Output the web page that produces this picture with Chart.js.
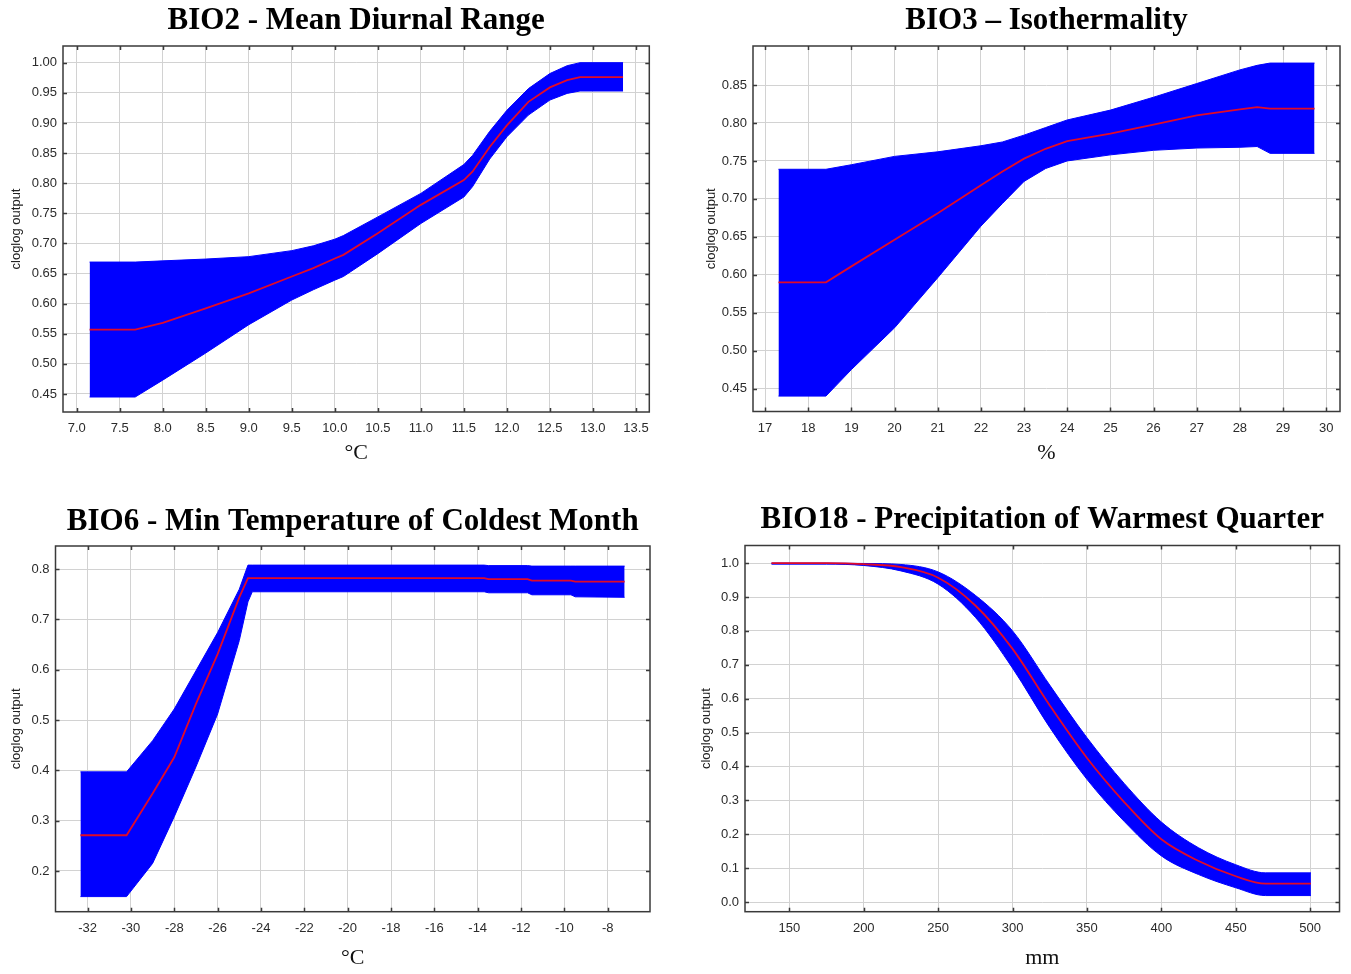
<!DOCTYPE html>
<html>
<head>
<meta charset="utf-8">
<title>Response curves</title>
<script src="https://cdn.jsdelivr.net/npm/chart.js@4.4.1/dist/chart.umd.min.js"></script>
<style>
    html, body { margin: 0; padding: 0; background: #fff; }
    body { width: 1351px; height: 974px; position: relative; overflow: hidden; }
    .panel { position: absolute; }
</style>
</head>
<body>
<div class="panel" style="left:0px;top:0px;width:690px;height:487px"><canvas id="bio2Chart" width="690" height="487"></canvas></div>
<div class="panel" style="left:690px;top:0px;width:661px;height:487px"><canvas id="bio3Chart" width="661" height="487"></canvas></div>
<div class="panel" style="left:0px;top:487px;width:690px;height:487px"><canvas id="bio6Chart" width="690" height="487"></canvas></div>
<div class="panel" style="left:690px;top:487px;width:661px;height:487px"><canvas id="bio18Chart" width="661" height="487"></canvas></div>
<script>
// BIO2 - mean diurnal range
var bio2X     = [7.15, 7.68, 8.0, 8.5, 9.0, 9.5, 9.75, 10.0, 10.1, 10.5, 11.0, 11.5, 11.6, 11.8, 12.0, 12.25, 12.5, 12.7, 12.85, 13.35];
var bio2Upper = [0.669, 0.669, 0.671, 0.674, 0.678, 0.688, 0.696, 0.707, 0.713, 0.744, 0.783, 0.831, 0.846, 0.886, 0.921, 0.957, 0.982, 0.995, 1.0, 1.0];
var bio2Lower = [0.445, 0.445, 0.473, 0.518, 0.565, 0.606, 0.623, 0.639, 0.645, 0.683, 0.733, 0.777, 0.794, 0.840, 0.877, 0.913, 0.938, 0.949, 0.953, 0.953];
var bio2Mean  = [0.557, 0.557, 0.568, 0.592, 0.617, 0.645, 0.659, 0.675, 0.681, 0.717, 0.764, 0.805, 0.819, 0.860, 0.896, 0.935, 0.959, 0.971, 0.976, 0.976];
var bio2XTicks = [7.0, 7.5, 8.0, 8.5, 9.0, 9.5, 10.0, 10.5, 11.0, 11.5, 12.0, 12.5, 13.0, 13.5];
var bio2YTicks = [0.45, 0.50, 0.55, 0.60, 0.65, 0.70, 0.75, 0.80, 0.85, 0.90, 0.95, 1.00];

// BIO3 - isothermality
var bio3X     = [17.31, 18.41, 19, 20, 21, 22, 22.5, 23, 23.5, 24, 25, 26, 27, 28, 28.4, 28.7, 29.73];
var bio3Upper = [0.739, 0.739, 0.745, 0.756, 0.762, 0.770, 0.775, 0.784, 0.794, 0.804, 0.817, 0.834, 0.852, 0.870, 0.876, 0.879, 0.879];
var bio3Lower = [0.440, 0.440, 0.475, 0.530, 0.596, 0.664, 0.694, 0.723, 0.740, 0.750, 0.758, 0.764, 0.767, 0.768, 0.769, 0.760, 0.760];
var bio3Mean  = [0.590, 0.590, 0.611, 0.646, 0.681, 0.718, 0.736, 0.753, 0.766, 0.776, 0.786, 0.798, 0.810, 0.818, 0.821, 0.819, 0.819];
var bio3XTicks = [17, 18, 19, 20, 21, 22, 23, 24, 25, 26, 27, 28, 29, 30];
var bio3YTicks = [0.45, 0.50, 0.55, 0.60, 0.65, 0.70, 0.75, 0.80, 0.85];

// BIO6 - min temperature of coldest month
var bio6X     = [-32.33, -30.2, -29, -28, -27, -26, -25, -24.6, -24.4, -13.7, -13.5, -11.7, -11.5, -9.7, -9.5, -7.22];
var bio6Upper = [0.397, 0.397, 0.459, 0.522, 0.598, 0.674, 0.760, 0.808, 0.808, 0.808, 0.807, 0.807, 0.806, 0.806, 0.806, 0.806];
var bio6Lower = [0.149, 0.149, 0.215, 0.308, 0.407, 0.512, 0.658, 0.735, 0.755, 0.755, 0.753, 0.753, 0.749, 0.749, 0.745, 0.744];
var bio6Mean  = [0.271, 0.271, 0.354, 0.426, 0.532, 0.631, 0.744, 0.782, 0.782, 0.782, 0.780, 0.780, 0.777, 0.777, 0.775, 0.775];
var bio6XTicks = [-32, -30, -28, -26, -24, -22, -20, -18, -16, -14, -12, -10, -8];
var bio6YTicks = [0.2, 0.3, 0.4, 0.5, 0.6, 0.7, 0.8];

// BIO18 - precipitation of warmest quarter
var bio18X     = [138, 175, 200, 225, 250, 275, 300, 325, 350, 375, 400, 425, 450, 470, 500.5];
var bio18Upper = [1.0, 1.0, 0.999, 0.996, 0.974, 0.905, 0.800, 0.640, 0.485, 0.350, 0.236, 0.160, 0.110, 0.086, 0.086];
var bio18Lower = [0.997, 0.997, 0.993, 0.977, 0.938, 0.840, 0.690, 0.515, 0.362, 0.238, 0.136, 0.081, 0.042, 0.019, 0.019];
var bio18Mean  = [1.0, 1.0, 0.997, 0.988, 0.957, 0.875, 0.747, 0.580, 0.425, 0.295, 0.185, 0.121, 0.076, 0.054, 0.054];
var bio18XTicks = [150, 200, 250, 300, 350, 400, 450, 500];
var bio18YTicks = [0.0, 0.1, 0.2, 0.3, 0.4, 0.5, 0.6, 0.7, 0.8, 0.9, 1.0];

var sansFont = "'Liberation Sans', Arial, sans-serif";
var serifFont = "'Liberation Serif', 'Times New Roman', serif";

function toPoints(xs, ys) {
    return xs.map(function (x, i) { return { x: x, y: ys[i] }; });
}

// inner frame + little inward tick marks like the maxent plots
var framePlugin = {
    id: 'frame',
    afterDatasetsDraw: function (chart) {
        var ctx = chart.ctx, a = chart.chartArea;
        var sx = chart.scales.x, sy = chart.scales.y;
        ctx.save();
        ctx.strokeStyle = '#3a3a3a';
        ctx.lineWidth = 1.5;
        ctx.beginPath();
        sx.ticks.forEach(function (t) {
            var px = Math.round(sx.getPixelForValue(t.value)) + 0.5;
            ctx.moveTo(px, a.bottom); ctx.lineTo(px, a.bottom - 4);
            ctx.moveTo(px, a.top); ctx.lineTo(px, a.top + 4);
        });
        sy.ticks.forEach(function (t) {
            var py = Math.round(sy.getPixelForValue(t.value)) + 0.5;
            ctx.moveTo(a.left, py); ctx.lineTo(a.left + 4, py);
            ctx.moveTo(a.right, py); ctx.lineTo(a.right - 4, py);
        });
        ctx.stroke();
        ctx.strokeRect(a.left, a.top, a.right - a.left, a.bottom - a.top);
        ctx.restore();
    }
};

function makeChart(id, cfg) {
    var ctx = document.getElementById(id).getContext('2d');
    var g = cfg.geom;
    var titleSize = 31, titleLH = titleSize * 1.2;
    var layoutTop = Math.max(0, g.titleY - g.top - titleLH / 2);
    var xTitleLH = 22 * 1.2;
    var yTitleLH = 13 * 1.2;
    var interp = cfg.smooth ? 'monotone' : 'default';

    return new Chart(ctx, {
        type: 'line',
        data: {
            datasets: [{
                label: 'mean',
                data: toPoints(cfg.x, cfg.mean),
                borderColor: 'rgb(225, 10, 40)',
                borderWidth: 1.8,
                pointRadius: 0,
                fill: false,
                tension: 0,
                cubicInterpolationMode: interp
            }, {
                label: 'upper',
                data: toPoints(cfg.x, cfg.upper),
                borderColor: '#0000ff',
                backgroundColor: '#0000ff',
                borderWidth: 1,
                pointRadius: 0,
                fill: '+1',
                tension: 0,
                cubicInterpolationMode: interp
            }, {
                label: 'lower',
                data: toPoints(cfg.x, cfg.lower),
                borderColor: '#0000ff',
                borderWidth: 1,
                pointRadius: 0,
                fill: false,
                tension: 0,
                cubicInterpolationMode: interp
            }]
        },
        options: {
            responsive: false,
            animation: false,
            layout: {
                padding: { left: 0, top: layoutTop, right: g.width - (g.right - g.left), bottom: 0 }
            },
            plugins: {
                legend: { display: false },
                tooltip: { enabled: false },
                title: {
                    display: true,
                    text: cfg.title,
                    fullSize: false,
                    color: '#000',
                    font: { family: serifFont, size: titleSize, weight: 'bold' },
                    padding: { top: 0, bottom: (g.plotTop - g.top) - layoutTop - titleLH }
                }
            },
            scales: {
                x: {
                    type: 'linear',
                    min: cfg.xMin,
                    max: cfg.xMax,
                    grid: { color: '#d2d2d2', lineWidth: 1, drawTicks: false },
                    border: { display: false },
                    afterBuildTicks: function (scale) {
                        scale.ticks = cfg.xTicks.map(function (v) { return { value: v }; });
                    },
                    afterFit: function (scale) {
                        scale.height = (g.top + g.height) - g.plotBottom;
                        scale.paddingLeft = 0;
                        scale.paddingRight = 0;
                    },
                    ticks: {
                        autoSkip: false,
                        maxRotation: 0,
                        padding: 9,
                        color: '#2b2b2b',
                        font: { family: sansFont, size: 13 },
                        callback: function (v) { return Number(v).toFixed(cfg.xDec); }
                    },
                    title: {
                        display: true,
                        text: cfg.xTitle,
                        color: '#111',
                        font: { family: serifFont, size: 22 },
                        padding: { top: 0, bottom: (g.top + g.height) - g.xTitleY - xTitleLH / 2 }
                    }
                },
                y: {
                    type: 'linear',
                    min: cfg.yMin,
                    max: cfg.yMax,
                    grid: { color: '#d2d2d2', lineWidth: 1, drawTicks: false },
                    border: { display: false },
                    afterBuildTicks: function (scale) {
                        scale.ticks = cfg.yTicks.map(function (v) { return { value: v }; });
                    },
                    afterFit: function (scale) {
                        scale.width = g.plotLeft - g.left;
                        scale.paddingTop = 0;
                        scale.paddingBottom = 0;
                    },
                    ticks: {
                        autoSkip: false,
                        padding: 6,
                        color: '#2b2b2b',
                        font: { family: sansFont, size: 13 },
                        callback: function (v) { return Number(v).toFixed(cfg.yDec); }
                    },
                    title: {
                        display: true,
                        text: 'cloglog output',
                        color: '#222',
                        font: { family: sansFont, size: 13 },
                        padding: { top: g.yTitleX - g.left - yTitleLH / 2, bottom: 0 }
                    }
                }
            }
        },
        plugins: [framePlugin]
    });
}

makeChart('bio2Chart', {
    title: 'BIO2 - Mean Diurnal Range', xTitle: '°C',
    x: bio2X, upper: bio2Upper, lower: bio2Lower, mean: bio2Mean,
    xTicks: bio2XTicks, yTicks: bio2YTicks, xDec: 1, yDec: 2, smooth: false,
    xMin: 6.841, xMax: 13.655, yMin: 0.4201, yMax: 1.0277,
    geom: { left: 0, top: 0, width: 690, height: 487, plotLeft: 63, right: 649.3, plotTop: 46, plotBottom: 412, titleY: 20.5, xTitleY: 453, yTitleX: 16 }
});

makeChart('bio3Chart', {
    title: 'BIO3 – Isothermality', xTitle: '%',
    x: bio3X, upper: bio3Upper, lower: bio3Lower, mean: bio3Mean,
    xTicks: bio3XTicks, yTicks: bio3YTicks, xDec: 0, yDec: 2, smooth: false,
    xMin: 16.72, xMax: 30.32, yMin: 0.4197, yMax: 0.9015,
    geom: { left: 690, top: 0, width: 661, height: 487, plotLeft: 753, right: 1340, plotTop: 46, plotBottom: 411.5, titleY: 20.5, xTitleY: 453, yTitleX: 711 }
});

makeChart('bio6Chart', {
    title: 'BIO6 - Min Temperature of Coldest Month', xTitle: '°C',
    x: bio6X, upper: bio6Upper, lower: bio6Lower, mean: bio6Mean,
    xTicks: bio6XTicks, yTicks: bio6YTicks, xDec: 0, yDec: 1, smooth: false,
    xMin: -33.48, xMax: -6.05, yMin: 0.119, yMax: 0.846,
    geom: { left: 0, top: 487, width: 690, height: 487, plotLeft: 55.5, right: 650, plotTop: 546, plotBottom: 911.7, titleY: 522, xTitleY: 958, yTitleX: 16 }
});

makeChart('bio18Chart', {
    title: 'BIO18 - Precipitation of Warmest Quarter', xTitle: 'mm',
    x: bio18X, upper: bio18Upper, lower: bio18Lower, mean: bio18Mean,
    xTicks: bio18XTicks, yTicks: bio18YTicks, xDec: 0, yDec: 1, smooth: true,
    xMin: 120.2, xMax: 519.7, yMin: -0.0286, yMax: 1.052,
    geom: { left: 690, top: 487, width: 661, height: 487, plotLeft: 745, right: 1339.5, plotTop: 545.5, plotBottom: 911.7, titleY: 520, xTitleY: 958, yTitleX: 706 }
});
</script>
</body>
</html>
